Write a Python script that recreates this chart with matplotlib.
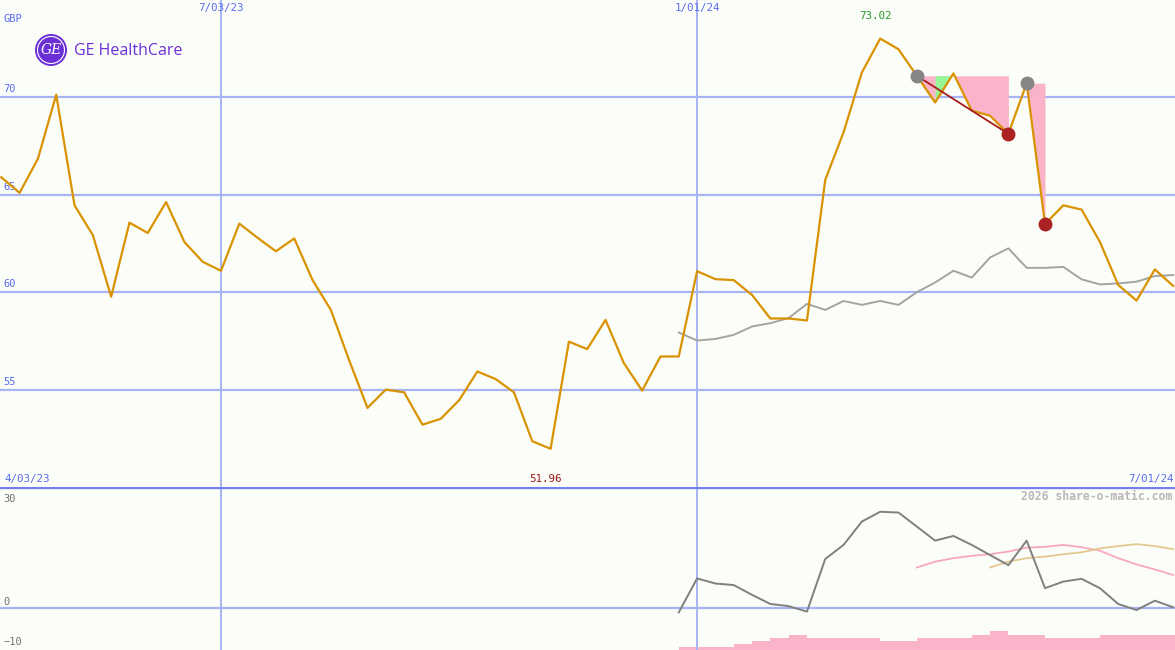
import numpy as np
import matplotlib
matplotlib.use("Agg")
import matplotlib.pyplot as plt
from matplotlib.patches import Circle

# weekly closes, 10 Apr 2023 .. 1 Jul 2024 (week index 0..64)
price = [65.9, 65.1, 66.85, 70.14, 64.46, 62.93, 59.77, 63.57, 63.04, 64.63,
         62.58, 61.56, 61.1, 63.52, 62.79, 62.1, 62.76, 60.62, 59.09, 56.5,
         54.06, 55.0, 54.86, 53.2, 53.5, 54.45, 55.93, 55.54, 54.86, 52.35,
         51.96, 57.46, 57.08, 58.58, 56.36, 54.95, 56.7, 56.7, 61.08, 60.67,
         60.62, 59.86, 58.65, 58.65, 58.55, 65.77, 68.21, 71.28, 73.02, 72.47,
         71.11, 69.74, 71.23, 69.32, 69.06, 68.13, 70.73, 63.5, 64.46, 64.24,
         62.58, 60.37, 59.57, 61.17, 60.32]

# moving average, starts at week 37
ma_start = 37
ma = [57.93, 57.52, 57.6, 57.81, 58.24, 58.41, 58.67, 59.4, 59.09, 59.55,
      59.35, 59.55, 59.35, 60.0, 60.5, 61.1, 60.75, 61.78, 62.25, 61.25,
      61.25, 61.3, 60.66, 60.4, 60.45, 60.54, 60.83, 60.88]

# lower panel oscillator (weeks 37..64)
osc = [-1.2, 7.5, 6.2, 5.8, 3.3, 0.95, 0.4, -1.0, 12.5, 16.1,
       22.1, 24.6, 24.4, 20.8, 17.2, 18.4, 16.1, 13.5, 10.9, 17.2,
       5.0, 6.7, 7.4, 5.0, 0.95, -0.6, 1.8, 0.1]
pink_start = 50
pink_line = [10.3, 11.8, 12.7, 13.3, 13.7, 14.4, 15.4, 15.6, 16.1, 15.5,
             14.6, 12.7, 11.1, 9.8, 8.4]
tan_start = 54
tan_line = [10.3, 11.8, 12.7, 13.1, 13.7, 14.2, 15.2, 15.8, 16.3, 15.8, 15.0]
# relative volume bars (weeks 37..64)
vol = [0.9, 0.9, 0.9, 2, 3, 4, 5, 4, 4, 4, 4, 3, 3, 4, 4, 4, 5, 6.3, 5, 5,
       4, 4, 4, 5, 5, 5, 5, 5]

# drawdown markers: (peak week, trough week)
drawdowns = [(50, 55), (56, 57)]

BG = "#fbfdf9"
GRID = "#a8b4f4"
BLUE_TXT = "#5a6cf0"
ORANGE = "#d99200"
PINK = "#f9b4c9"
MONO = "DejaVu Sans Mono"

x = np.arange(len(price))
price = np.array(price)

fig = plt.figure(figsize=(11.75, 6.5), dpi=100, facecolor=BG)
ax = fig.add_axes([0, 163 / 650, 1, 487 / 650], facecolor=BG)
axb = fig.add_axes([0, 0, 1, 163 / 650], facecolor=BG)

xlim = (-0.07, 64.1)
for a in (ax, axb):
    a.set_xlim(*xlim)
    a.set_xticks([])
    a.set_yticks([])
    for s in a.spines.values():
        s.set_visible(False)
    for wk in (12, 38):
        a.axvline(wk, color=GRID, lw=1.4, zorder=1)

ax.set_ylim(50, 75)
axb.set_ylim(-10.85, 30.95)

for lvl in (55, 60, 65, 70):
    ax.axhline(lvl, color=GRID, lw=1.6, zorder=1)
    ax.text(0.12, lvl + 0.15, str(lvl), color=BLUE_TXT, fontsize=7.5,
            family=MONO, va="bottom", ha="left")
axb.axhline(0, color=GRID, lw=1.6, zorder=1)
axb.axhline(30.95, color="#7080f0", lw=2.4, zorder=2)

# drawdown shading
for p0, p1 in drawdowns:
    lvl = price[p0]
    xs = np.linspace(p0, p1, 200)
    ys = np.interp(xs, x, price)
    ax.fill_between(xs, lvl, ys, color=PINK, lw=0, zorder=2)
# green portion in first drawdown
xs = np.linspace(51, 52, 100)
ax.fill_between(xs, price[50], np.interp(xs, x, price),
                where=np.interp(xs, x, price) < price[50],
                color="#96f596", lw=0, zorder=2)

ax.plot(np.arange(ma_start, ma_start + len(ma)), ma, color="#a4a4a4",
        lw=1.4, zorder=3)
ax.plot(x, price, color=ORANGE, lw=1.6, zorder=4)

# drawdown trend line and markers
p0, p1 = drawdowns[0]
ax.plot([p0, p1], [price[p0], price[p1]], color="#a81c1c", lw=1.3, zorder=5)
for p0, p1 in drawdowns:
    ax.plot(p0, price[p0], "o", color="#858585", ms=9, zorder=6)
    ax.plot(p1, price[p1], "o", color="#aa2222", ms=9, zorder=6)

# labels on the main panel
hi = int(np.argmax(price))
lo = int(np.argmin(price))
ax.text(hi - 0.25, 74.2, f"{price[hi]:.2f}", color="#2a9a2a", fontsize=7.8,
        family=MONO, ha="center", va="center")
ax.text(lo - 0.3, 50.4, f"{price[lo]:.2f}", color="#a01818", fontsize=7.8,
        family=MONO, ha="center", va="center")
ax.text(0.12, 74.05, "GBP", color=BLUE_TXT, fontsize=7.5, family=MONO,
        ha="left", va="center")
ax.text(12, 74.6, "7/03/23", color=BLUE_TXT, fontsize=7.8, family=MONO,
        ha="center", va="center")
ax.text(38, 74.6, "1/01/24", color=BLUE_TXT, fontsize=7.8, family=MONO,
        ha="center", va="center")
ax.text(0.15, 50.4, "4/03/23", color=BLUE_TXT, fontsize=7.8, family=MONO,
        ha="left", va="center")
ax.text(64.05, 50.4, "7/01/24", color=BLUE_TXT, fontsize=7.8, family=MONO,
        ha="right", va="center")

# logo
logo_ax = fig.add_axes([0, 0, 1, 1], facecolor="none")
logo_ax.set_xlim(0, 1175)
logo_ax.set_ylim(650, 0)
logo_ax.axis("off")
logo_ax.add_patch(Circle((51, 50), 16, facecolor="#6b2fd6", edgecolor="none"))
logo_ax.add_patch(Circle((51, 50), 13.5, facecolor="none", edgecolor="white", lw=0.8))
logo_ax.text(51, 50, "GE", color="white", fontsize=10, fontstyle="italic",
             family="DejaVu Serif", ha="center", va="center")
logo_ax.text(74, 51, "GE HealthCare", color="#6b2fd6", fontsize=11.5,
             ha="left", va="center", family="Open Sans")

# lower panel
xo = np.arange(ma_start, ma_start + len(osc))
axv = axb.twinx()
axv.set_ylim(0, 163 / 3)
axv.axis("off")
axv.bar(xo, vol, width=1.0, align="edge", color=PINK, lw=0, zorder=1)
axb.set_zorder(axv.get_zorder() + 1)
axb.patch.set_visible(False)

axb.plot(np.arange(pink_start, pink_start + len(pink_line)), pink_line,
         color="#f7a8c0", lw=1.3, zorder=3)
axb.plot(np.arange(tan_start, tan_start + len(tan_line)), tan_line,
         color="#e3c98f", lw=1.3, zorder=3)
axb.plot(xo, osc, color="#808080", lw=1.4, zorder=4)

axb.text(0.12, 28.0, "30", color="#707070", fontsize=7.5, family=MONO,
         ha="left", va="center")
axb.text(0.12, 1.5, "0", color="#707070", fontsize=7.5, family=MONO,
         ha="left", va="center")
axb.text(0.12, -8.8, "\u221210", color="#707070", fontsize=7.5, family=MONO,
         ha="left", va="center")
axb.text(63.95, 28.4, "2026 share-o-matic.com", color="#b8b8b8", fontsize=8.3,
         family=MONO, fontweight="bold", ha="right", va="center")

fig.savefig("out.png", dpi=100, facecolor=BG)
